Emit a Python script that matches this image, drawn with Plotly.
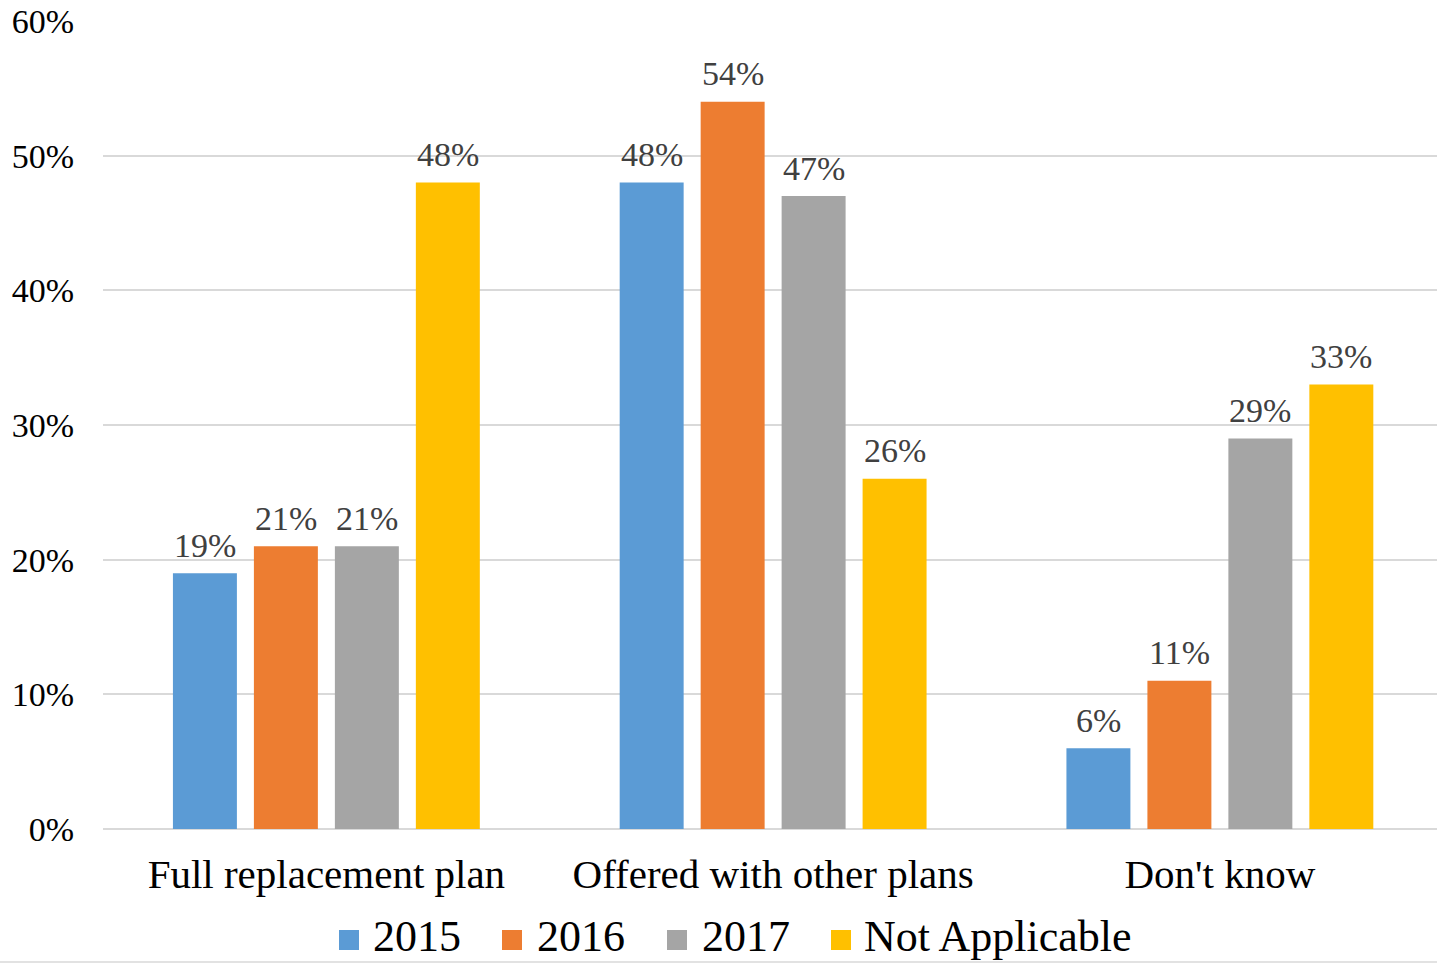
import plotly.graph_objects as go

# Survey responses by plan type (share of respondents)
categories = ["Full replacement plan", "Offered with other plans", "Don't know"]
series_names = ["2015", "2016", "2017", "Not Applicable"]
values_2015 = [0.19, 0.48, 0.06]
values_2016 = [0.21, 0.54, 0.11]
values_2017 = [0.21, 0.47, 0.29]
values_na = [0.48, 0.26, 0.33]
colors = ["#5B9BD5", "#ED7D31", "#A5A5A5", "#FFC000"]
y_ticks = [0, 0.1, 0.2, 0.3, 0.4, 0.5, 0.6]
y_tick_labels = ["0%", "10%", "20%", "30%", "40%", "50%", "60%"]

W, H = 1437, 964
ML, MR, MT, MB = 103, 0, 21, 135
PW, PH = W - ML - MR, H - MT - MB
SERIF = "Liberation Serif, Times New Roman, serif"
BARGAP = 0.275
BARGROUPGAP = 0.21


def px_x(x):
    return (x - ML) / PW


def px_y(y):
    return (H - MB - y) / PH


all_series = [values_2015, values_2016, values_2017, values_na]
fig = go.Figure()
annotations = []
slot = (1 - BARGAP) / len(all_series)
for j, (name, vals, col) in enumerate(zip(series_names, all_series, colors)):
    fig.add_trace(go.Bar(
        x=categories, y=vals, name=name,
        marker=dict(color=col, line=dict(width=0)),
        showlegend=False,
    ))
    # value labels above each bar
    for i, v in enumerate(vals):
        annotations.append(dict(
            x=i + (j - (len(all_series) - 1) / 2) * slot, y=v,
            xref="x", yref="y", text=f"{v * 100:.0f}%",
            showarrow=False, xanchor="center", yanchor="middle", yshift=28,
            font=dict(family=SERIF, size=34, color="#404040"),
        ))

# Legend drawn below the plot with larger swatches
legend_swatch_x = [339, 502, 667, 831]
legend_text_x = [371, 535, 700, 862]
shapes = []
for name, col, sx, tx in zip(series_names, colors, legend_swatch_x, legend_text_x):
    shapes.append(dict(type="rect", xref="paper", yref="paper",
                       x0=px_x(sx), x1=px_x(sx + 20), y0=px_y(950), y1=px_y(930),
                       fillcolor=col, line=dict(width=0)))
    annotations.append(dict(text=name, xref="paper", yref="paper",
                            x=px_x(tx), y=px_y(936), xanchor="left", yanchor="middle",
                            showarrow=False,
                            font=dict(family=SERIF, size=44, color="#000000")))
# thin border line at the bottom
shapes.append(dict(type="line", xref="paper", yref="paper",
                   x0=px_x(0), x1=px_x(W), y0=px_y(962), y1=px_y(962),
                   line=dict(color="#D9D9D9", width=1.5)))

fig.update_layout(
    width=W, height=H,
    margin=dict(l=ML, r=MR, t=MT, b=MB),
    paper_bgcolor="white", plot_bgcolor="white",
    barmode="group", bargap=BARGAP, bargroupgap=BARGROUPGAP,
    shapes=shapes, annotations=annotations,
    font=dict(family=SERIF),
)
fig.update_xaxes(
    range=[-0.5, 2.486],
    showgrid=False, showline=False, zeroline=False,
    ticks="", tickfont=dict(family=SERIF, size=41, color="#000000"),
    ticklabelstandoff=17,
)
fig.update_yaxes(
    range=[0, 0.6], tickvals=y_ticks, ticktext=y_tick_labels,
    showgrid=True, gridcolor="#D9D9D9", gridwidth=2,
    zeroline=True, zerolinecolor="#D9D9D9", zerolinewidth=2,
    showline=False, ticks="",
    tickfont=dict(family=SERIF, size=34, color="#000000"),
    ticklabelstandoff=28,
)

fig.write_html("out.html")
